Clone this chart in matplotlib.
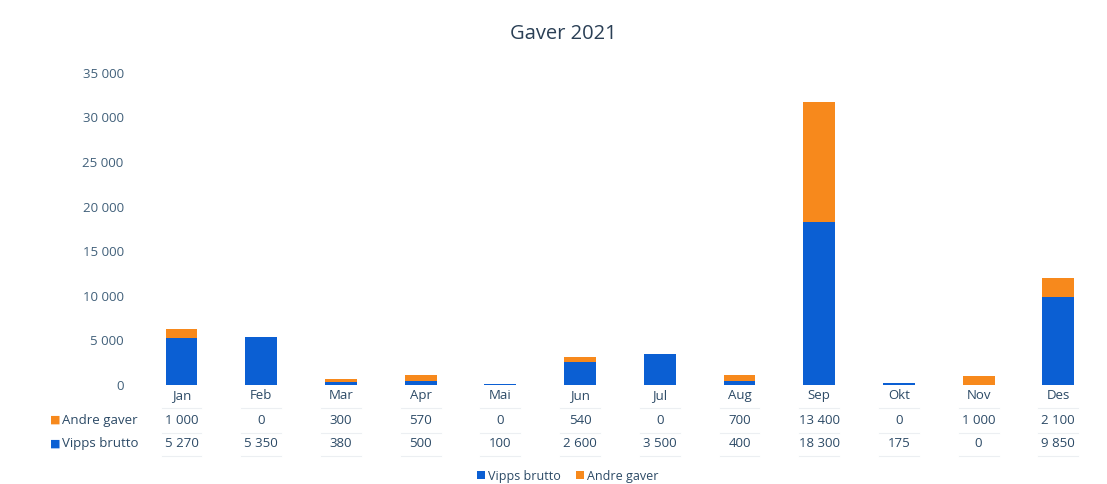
import matplotlib
matplotlib.use("Agg")
import matplotlib.pyplot as plt
import numpy as np

months = ["Jan", "Feb", "Mar", "Apr", "Mai", "Jun", "Jul", "Aug", "Sep", "Okt", "Nov", "Des"]
andre_gaver = [1000, 0, 300, 570, 0, 540, 0, 700, 13400, 0, 1000, 2100]
vipps_brutto = [5270, 5350, 380, 500, 100, 2600, 3500, 400, 18300, 175, 0, 9850]
yticks = [0, 5000, 10000, 15000, 20000, 25000, 30000, 35000]

blue = "#0b5fd3"
orange = "#f7891c"
tick_col = "#41607a"
txt_col = "#2c4a66"

plt.rcParams['font.family'] = ['Open Sans', 'DejaVu Sans']

def fmt(v):
    return f"{v:,}".replace(",", " ")

fig = plt.figure(figsize=(11.07, 4.84), dpi=100)
ax = fig.add_axes([0.128, 0.2045, 0.864, 0.645])
x = np.arange(len(months))
b1 = ax.bar(x, vipps_brutto, width=0.4, color=blue, label="Vipps brutto")
b2 = ax.bar(x, andre_gaver, width=0.4, bottom=vipps_brutto, color=orange, label="Andre gaver")
ax.set_xlim(-0.5, len(months) - 0.5)
ax.set_ylim(0, 35000)
ax.set_yticks(yticks)
ax.set_yticklabels([fmt(v) for v in yticks], fontsize=9.5, color=tick_col)
ax.tick_params(axis='y', length=0, pad=13)
ax.set_xticks([])
for s in ax.spines.values():
    s.set_visible(False)

fig.text(0.509, 0.93, "Gaver 2021", ha='center', va='center', fontsize=14.5, color="#2a3f55")

# data table
trans = matplotlib.transforms.blended_transform_factory(ax.transData, fig.transFigure)
rows = [(0.182, months), (0.131, [fmt(v) for v in andre_gaver]), (0.083, [fmt(v) for v in vipps_brutto])]
for y, labels in rows:
    for i, lab in enumerate(labels):
        ax.text(i, y, lab, transform=trans, ha='center', va='center', fontsize=9.5, color=txt_col, clip_on=False)
    for i in range(len(labels)):
        ax.plot([i - 0.25, i + 0.25], [y - 0.026, y - 0.026], transform=trans, color="#eceff2", lw=0.8, clip_on=False)

fig.text(0.045, 0.131, "■", ha='left', va='center', fontsize=8, color=orange)
fig.text(0.056, 0.131, "Andre gaver", ha='left', va='center', fontsize=9.5, color=txt_col)
fig.text(0.045, 0.083, "■", ha='left', va='center', fontsize=8, color=blue)
fig.text(0.056, 0.083, "Vipps brutto", ha='left', va='center', fontsize=9.5, color=txt_col)

fig.legend(handles=[b1, b2], loc='center', bbox_to_anchor=(0.513, 0.016), ncol=2, frameon=False,
           fontsize=9, handlelength=0.6, handleheight=0.6, handletextpad=0.3, columnspacing=1.2,
           labelcolor=txt_col)

fig.savefig("out.png", dpi=100, facecolor="white")
